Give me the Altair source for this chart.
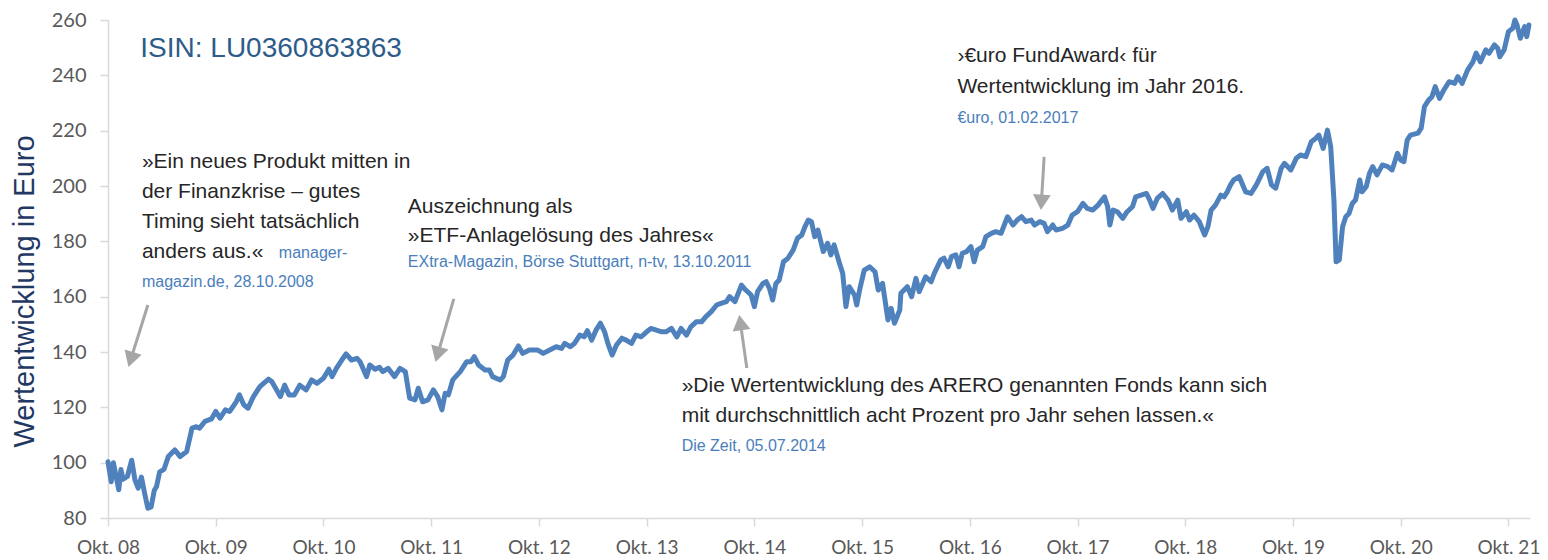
import math
import altair as alt
import pandas as pd

# ---------------- data ----------------
years = [
    2008.75, 2008.78, 2008.80, 2008.85, 2008.87, 2008.89, 2008.93, 2008.97, 2009.00, 2009.03,
    2009.06, 2009.09, 2009.12, 2009.15, 2009.18, 2009.20, 2009.23, 2009.27, 2009.31, 2009.37,
    2009.42, 2009.48, 2009.53, 2009.57, 2009.60, 2009.65, 2009.71, 2009.75, 2009.79, 2009.84,
    2009.88, 2009.94, 2009.97, 2010.01, 2010.05, 2010.10, 2010.16, 2010.24, 2010.27, 2010.35,
    2010.39, 2010.43, 2010.48, 2010.53, 2010.59, 2010.64, 2010.69, 2010.75, 2010.80, 2010.83,
    2010.87, 2010.92, 2010.96, 2011.01, 2011.06, 2011.09, 2011.15, 2011.18, 2011.23, 2011.27,
    2011.30, 2011.35, 2011.41, 2011.46, 2011.51, 2011.55, 2011.60, 2011.63, 2011.67, 2011.72,
    2011.77, 2011.81, 2011.85, 2011.88, 2011.91, 2011.95, 2012.02, 2012.08, 2012.12, 2012.15,
    2012.19, 2012.25, 2012.29, 2012.32, 2012.39, 2012.42, 2012.46, 2012.51, 2012.56, 2012.60,
    2012.66, 2012.74, 2012.79, 2012.85, 2012.91, 2012.96, 2012.99, 2013.04, 2013.08, 2013.13,
    2013.17, 2013.20, 2013.24, 2013.28, 2013.32, 2013.36, 2013.39, 2013.43, 2013.47, 2013.52,
    2013.56, 2013.61, 2013.65, 2013.70, 2013.75, 2013.79, 2013.84, 2013.89, 2013.93, 2013.98,
    2014.03, 2014.07, 2014.12, 2014.16, 2014.21, 2014.26, 2014.30, 2014.35, 2014.40, 2014.44,
    2014.49, 2014.52, 2014.57, 2014.63, 2014.67, 2014.72, 2014.75, 2014.78, 2014.83, 2014.86,
    2014.89, 2014.92, 2014.95, 2014.98, 2015.02, 2015.06, 2015.11, 2015.15, 2015.19, 2015.22,
    2015.25, 2015.28, 2015.31, 2015.34, 2015.39, 2015.43, 2015.46, 2015.49, 2015.54, 2015.57,
    2015.60, 2015.63, 2015.68, 2015.70, 2015.73, 2015.77, 2015.82, 2015.87, 2015.90, 2015.94,
    2015.99, 2016.02, 2016.05, 2016.10, 2016.11, 2016.17, 2016.21, 2016.25, 2016.28, 2016.34,
    2016.39, 2016.42, 2016.48, 2016.51, 2016.55, 2016.58, 2016.62, 2016.65, 2016.68, 2016.72,
    2016.76, 2016.79, 2016.82, 2016.87, 2016.90, 2016.95, 2016.99, 2017.04, 2017.07, 2017.10,
    2017.15, 2017.19, 2017.23, 2017.27, 2017.32, 2017.35, 2017.40, 2017.44, 2017.47, 2017.52,
    2017.55, 2017.61, 2017.66, 2017.70, 2017.75, 2017.80, 2017.84, 2017.89, 2017.94, 2018.00,
    2018.03, 2018.05, 2018.08, 2018.12, 2018.17, 2018.21, 2018.26, 2018.29, 2018.34, 2018.39,
    2018.42, 2018.45, 2018.49, 2018.54, 2018.59, 2018.63, 2018.68, 2018.71, 2018.76, 2018.79,
    2018.83, 2018.88, 2018.93, 2018.96, 2018.99, 2019.03, 2019.08, 2019.11, 2019.14, 2019.17,
    2019.20, 2019.25, 2019.31, 2019.36, 2019.41, 2019.47, 2019.51, 2019.55, 2019.59, 2019.64,
    2019.67, 2019.73, 2019.78, 2019.82, 2019.87, 2019.92, 2019.96, 2019.99, 2020.03, 2020.07,
    2020.10, 2020.13, 2020.15, 2020.18, 2020.21, 2020.24, 2020.27, 2020.30, 2020.33, 2020.37,
    2020.39, 2020.43, 2020.46, 2020.49, 2020.53, 2020.58, 2020.63, 2020.67, 2020.72, 2020.75,
    2020.78, 2020.81, 2020.84, 2020.91, 2020.94, 2020.97, 2021.01, 2021.04, 2021.07, 2021.11,
    2021.15, 2021.20, 2021.25, 2021.28, 2021.32, 2021.37, 2021.42, 2021.45, 2021.49, 2021.54,
    2021.57, 2021.62, 2021.65, 2021.67, 2021.71, 2021.75, 2021.79, 2021.81, 2021.83, 2021.86,
    2021.90, 2021.92, 2021.94,
]
values = [
    100.3, 93.1, 100.0, 90.2, 97.5, 94.0, 95.0, 100.9, 93.8, 90.8,
    94.8, 88.9, 83.5, 84.0, 90.0, 91.3, 96.7, 97.6, 102.2, 104.6,
    102.2, 104.0, 112.5, 113.0, 112.5, 114.9, 115.8, 118.5, 116.1, 119.1,
    118.5, 122.0, 124.5, 120.9, 119.7, 123.9, 127.5, 130.2, 129.3, 123.9,
    128.0, 124.5, 124.5, 128.0, 126.3, 129.9, 128.7, 130.5, 133.8, 131.1,
    134.1, 137.1, 139.3, 137.1, 137.7, 136.5, 131.1, 135.3, 133.8, 134.5,
    132.9, 134.1, 131.1, 134.1, 132.9, 123.3, 122.7, 126.9, 122.0, 122.7,
    126.3, 123.9, 119.1, 125.1, 124.5, 129.9, 132.9, 136.5, 136.5, 138.3,
    135.3, 133.5, 133.5, 131.1, 129.9, 131.1, 137.1, 138.9, 142.2, 139.5,
    140.7, 140.7, 139.5, 140.7, 141.9, 141.3, 143.1, 141.9, 143.1, 146.1,
    145.5, 147.7, 144.3, 147.9, 150.4, 147.3, 143.1, 138.9, 142.5, 145.0,
    144.3, 143.1, 146.1, 145.5, 147.3, 148.5, 147.9, 147.3, 147.3, 148.5,
    145.5, 148.5, 146.1, 149.1, 150.9, 150.9, 152.8, 154.6, 157.0, 157.6,
    158.2, 160.0, 158.2, 164.2, 162.4, 160.6, 156.4, 161.8, 164.8, 165.4,
    163.0, 158.8, 164.8, 166.0, 172.6, 173.8, 176.8, 181.1, 182.3, 185.3,
    187.7, 187.1, 181.7, 184.1, 176.3, 179.3, 175.1, 178.7, 172.1, 168.5,
    156.4, 163.6, 160.6, 157.0, 163.0, 169.6, 170.8, 169.0, 162.4, 164.8,
    151.6, 155.8, 150.4, 155.2, 161.2, 163.6, 160.0, 166.6, 161.8, 167.2,
    165.4, 168.4, 173.3, 173.9, 170.8, 174.5, 175.1, 170.8, 175.7, 176.3,
    178.1, 172.6, 176.8, 178.1, 181.7, 182.9, 183.5, 182.9, 185.9, 188.9,
    185.9, 187.7, 188.9, 187.1, 187.7, 185.9, 187.1, 186.5, 183.5, 185.9,
    184.1, 184.7, 185.9, 189.5, 190.7, 193.7, 191.9, 191.3, 193.1, 196.1,
    192.5, 185.9, 191.3, 190.7, 188.3, 190.7, 192.5, 196.1, 196.7, 197.3,
    194.9, 191.9, 195.5, 197.3, 194.9, 191.3, 194.9, 188.3, 190.7, 187.7,
    189.5, 187.1, 182.3, 185.3, 191.3, 193.1, 196.7, 196.1, 197.9, 200.4,
    202.2, 203.4, 197.9, 197.3, 200.4, 205.2, 206.4, 200.4, 199.2, 206.4,
    208.2, 205.8, 210.0, 211.2, 210.6, 216.0, 217.2, 218.4, 213.6, 220.2,
    214.2, 194.9, 172.6, 173.3, 185.3, 188.9, 190.1, 193.7, 194.9, 202.2,
    197.9, 199.8, 204.6, 207.0, 204.0, 207.6, 207.0, 205.8, 211.8, 209.4,
    208.8, 216.6, 218.4, 219.1, 220.9, 228.7, 231.1, 232.3, 235.9, 231.7,
    234.7, 237.7, 237.1, 239.5, 237.1, 241.9, 244.9, 248.0, 244.9, 249.2,
    248.0, 251.0, 249.8, 246.7, 249.2, 255.8, 257.0, 260.0, 258.2, 253.4,
    257.6, 254.0, 258.2,
]

tick_years = [2008.75 + k for k in range(14)]
tick_labels = ["Okt. 08", "Okt. 09", "Okt. 10", "Okt. 11", "Okt. 12", "Okt. 13", "Okt. 14",
               "Okt. 15", "Okt. 16", "Okt. 17", "Okt. 18", "Okt. 19", "Okt. 20", "Okt. 21"]
y_ticks = [80, 100, 120, 140, 160, 180, 200, 220, 240, 260]

title_text = ["ISIN: LU0360863863"]
title_x = [2009.05]
title_y = [246.6]

quote_lines = [
    "»Ein neues Produkt mitten in",
    "der Finanzkrise – gutes",
    "Timing  sieht tatsächlich",
    "anders aus.«",
    "Auszeichnung als",
    "»ETF-Anlagelösung des Jahres«",
    "»Die Wertentwicklung des ARERO genannten Fonds kann sich",
    "mit durchschnittlich acht Prozent pro Jahr sehen lassen.«",
    "›€uro FundAward‹ für",
    "Wertentwicklung im Jahr 2016.",
]
quote_x = [2009.065, 2009.065, 2009.065, 2009.065, 2011.533, 2011.533, 2014.075, 2014.075, 2016.635, 2016.635]
quote_y = [206.5, 195.7, 184.8, 174.0, 190.2, 179.8, 125.5, 114.7, 244.8, 233.6]

source_lines = [
    "manager-",
    "magazin.de, 28.10.2008",
    "EXtra-Magazin, Börse Stuttgart,  n-tv, 13.10.2011",
    "Die Zeit, 05.07.2014",
    "€uro, 01.02.2017",
]
source_x = [2010.336, 2009.065, 2011.533, 2014.075, 2016.635]
source_y = [174.0, 163.5, 170.7, 104.2, 222.8]

arrow_tail_x = [2009.12, 2011.96, 2014.68, 2017.44]
arrow_tail_y = [157.0, 159.2, 134.2, 210.5]
arrow_tip_x = [2008.94, 2011.79, 2014.61, 2017.41]
arrow_tip_y = [134.6, 136.4, 153.4, 191.3]

# ---------------- layout ----------------
X_MIN, X_MAX = 2008.75, 2021.95
Y_MIN, Y_MAX = 80, 260
W, H = 1422, 498
kx = W / (X_MAX - X_MIN)
ky = H / (Y_MAX - Y_MIN)

HEAD_SIZE = 320
head_r = math.sqrt(HEAD_SIZE) / 2
head_h = math.sqrt(3) / 2 * head_r

arrow_rows = []
for tx, ty, px, py in zip(arrow_tail_x, arrow_tail_y, arrow_tip_x, arrow_tip_y):
    dx = (px - tx) * kx
    dy = -(py - ty) * ky
    L = math.hypot(dx, dy)
    ux, uy = dx / L, dy / L
    ang = math.degrees(math.atan2(ux, -uy)) % 360
    cx = px - ux * head_h / kx
    cy = py + uy * head_h / ky
    bx = px - ux * (2 * head_h - 2) / kx
    by = py + uy * (2 * head_h - 2) / ky
    arrow_rows.append({"jahr": tx, "wert": ty, "jahr2": bx, "wert2": by,
                       "cjahr": cx, "cwert": cy, "angle": ang})
arrow_df = pd.DataFrame(arrow_rows)

x_scale = alt.Scale(domain=[X_MIN, X_MAX], nice=False, zero=False)
y_scale = alt.Scale(domain=[Y_MIN, Y_MAX], nice=False, zero=False)

label_expr = "[" + ",".join("'%s'" % l for l in tick_labels) + "][round(datum.value - 2008.75)]"

AXIS_COLOR = "#D9D9D9"
x_axis = alt.Axis(values=tick_years, labelExpr=label_expr, title=None, grid=False,
                  domainColor=AXIS_COLOR, domainWidth=1.5, tickColor=AXIS_COLOR, tickWidth=1.5,
                  tickSize=8, labelFont="Lato", labelFontSize=19, labelColor="#595959",
                  labelPadding=12, labelOverlap=False, labelFlush=False)
y_axis = alt.Axis(values=y_ticks, title="Wertentwicklung in Euro", grid=False,
                  domainColor=AXIS_COLOR, domainWidth=1.5, tickColor=AXIS_COLOR, tickWidth=1.5,
                  tickSize=8, labelFont="Lato", labelFontSize=20, labelColor="#595959",
                  labelPadding=14, labelOverlap=False, labelFlush=False,
                  titleFont="Liberation Sans", titleFontSize=29, titleFontWeight="normal",
                  titleColor="#1F3864", titleAngle=270, titleX=-75, titleY=271,
                  titleAlign="center", titleBaseline="alphabetic")

X = lambda f: alt.X(f, scale=x_scale, axis=x_axis)
Y = lambda f: alt.Y(f, scale=y_scale, axis=y_axis)

line_df = pd.DataFrame({"jahr": years, "wert": values})
line = alt.Chart(line_df).mark_line(color="#4F81BD", strokeWidth=5, strokeJoin="round",
                                    strokeCap="round").encode(
    x=X("jahr:Q"), y=Y("wert:Q"),
)

shafts = alt.Chart(arrow_df).mark_rule(color="#A6A6A6", strokeWidth=3).encode(
    x=X("jahr:Q"), x2="jahr2:Q", y=Y("wert:Q"), y2="wert2:Q",
)
heads = alt.Chart(arrow_df).mark_point(shape="triangle-up", filled=True, size=HEAD_SIZE,
                                       color="#A6A6A6", opacity=1, strokeWidth=0).encode(
    x=X("cjahr:Q"), y=Y("cwert:Q"),
    angle=alt.Angle("angle:Q", scale=None),
)

title_df = pd.DataFrame({"text": title_text, "jahr": title_x, "wert": title_y})
title = alt.Chart(title_df).mark_text(align="left", baseline="alphabetic", font="Liberation Sans",
                                      fontSize=28, color="#2E5C8A").encode(
    x=X("jahr:Q"), y=Y("wert:Q"), text="text:N",
)

quote_df = pd.DataFrame({"text": quote_lines, "jahr": quote_x, "wert": quote_y})
quotes = alt.Chart(quote_df).mark_text(align="left", baseline="alphabetic", font="Liberation Sans",
                                       fontSize=21, color="#262626").encode(
    x=X("jahr:Q"), y=Y("wert:Q"), text="text:N",
)

source_df = pd.DataFrame({"text": source_lines, "jahr": source_x, "wert": source_y})
sources = alt.Chart(source_df).mark_text(align="left", baseline="alphabetic", font="Liberation Sans",
                                         fontSize=16, color="#4A7EBB").encode(
    x=X("jahr:Q"), y=Y("wert:Q"), text="text:N",
)

chart = alt.layer(line, shafts, heads, title, quotes, sources).properties(
    width=W, height=H,
    autosize=alt.AutoSizeParams(type="none"),
    padding={"left": 100, "top": 12, "right": 10, "bottom": 42},
    background="white",
).configure_view(stroke=None)

chart.save("out.html", embed_options={"renderer": "svg", "actions": False})
